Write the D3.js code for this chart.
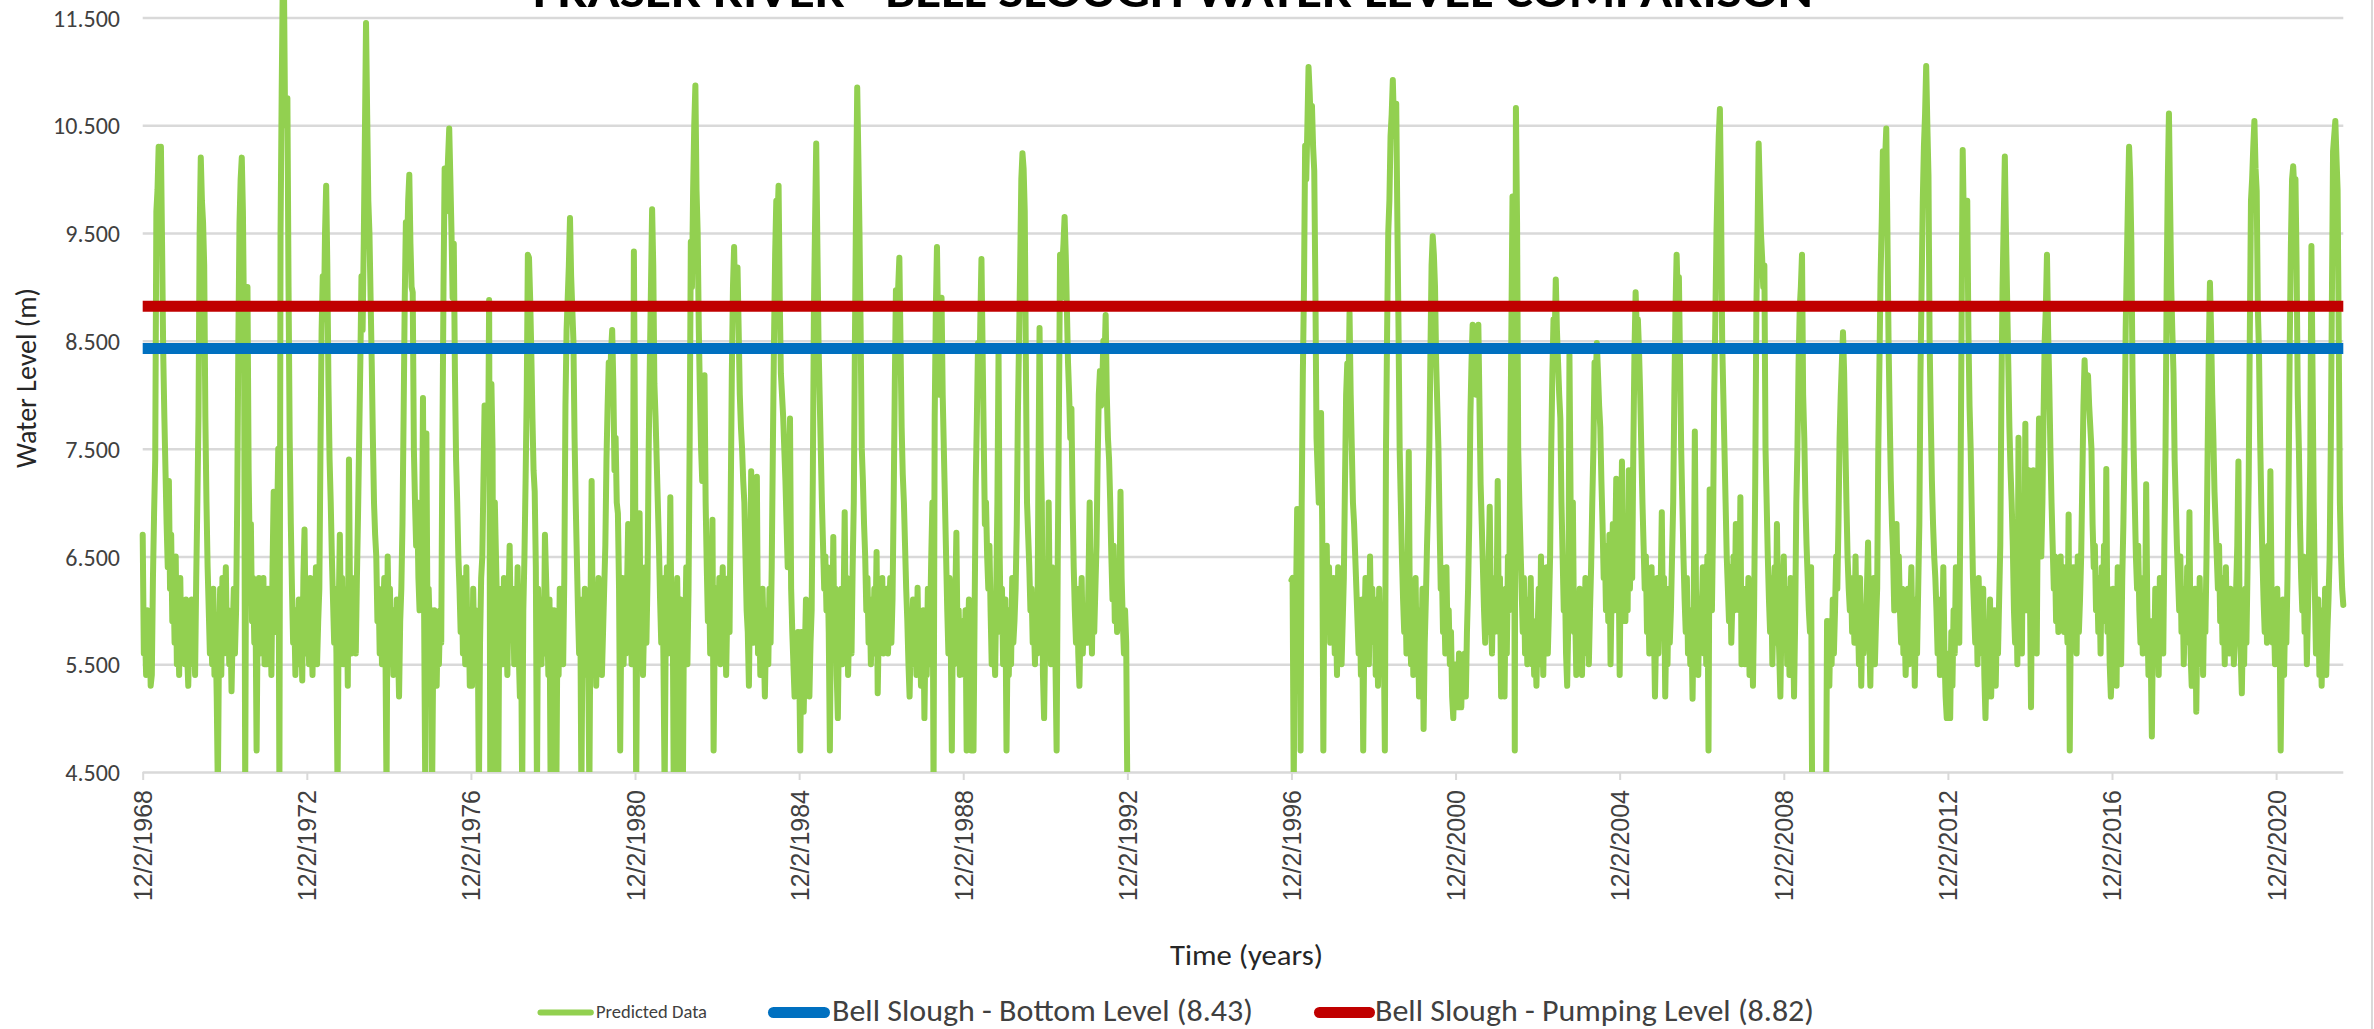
<!DOCTYPE html>
<html>
<head>
<meta charset="utf-8">
<script src="https://cdn.jsdelivr.net/npm/d3@7"></script>
<style>
html,body{margin:0;padding:0;background:#fff;overflow:hidden}
svg{display:block}
</style>
</head>
<body>
<svg id="chart" width="2374" height="1029"></svg>
<script>
// ---------------- DATA ----------------
const chartTitle = "FRASER RIVER - BELL SLOUGH WATER LEVEL COMPARISON";
const xAxisTitle = "Time (years)";
const yAxisTitle = "Water Level (m)";
const seriesNames = ["Predicted Data", "Bell Slough - Bottom Level (8.43)", "Bell Slough - Pumping Level (8.82)"];
const bottomLevel = 8.43;
const pumpingLevel = 8.82;
const yTickValues = [4.5, 5.5, 6.5, 7.5, 8.5, 9.5, 10.5, 11.5];
const xTickLabels = ["12/2/1968","12/2/1972","12/2/1976","12/2/1980","12/2/1984","12/2/1988","12/2/1992",
                     "12/2/1996","12/2/2000","12/2/2004","12/2/2008","12/2/2012","12/2/2016","12/2/2020"];
const samplesPerYear = 36;          // readings per year row (each row starts on 2 December)
const firstYearA = 1968;            // first record block: Dec 1968 - Dec 1992
const firstYearB = 1996;            // second record block: Dec 1996 - Jul 2022

const levelsA = [
 [6.7,5.6,5.8,5.4,6.0,5.5, 5.9,5.3,5.4,6.3,6.9,7.4, 9.7,9.9,10.3,10.0,10.3,9.4, 8.4,7.8,7.3,6.8,6.4,7.2, 6.2,6.7,5.9,6.3,5.7,6.5, 5.5,6.0,5.4,6.3,5.6,6.0],
 [5.9,5.5,6.1,5.6,5.3,5.8, 5.5,6.1,5.6,5.9,5.4,6.3, 7.0,7.8,9.5,10.2,9.8,9.6, 9.2,7.8,7.0,6.4,6.0,5.6, 5.9,5.5,6.2,5.4,5.8,5.2, 4.3,5.7,6.2,5.4,6.3,5.6],
 [5.8,6.4,5.6,6.0,5.5,5.9, 5.25,5.8,6.2,5.6,6.0,7.0, 8.5,9.6,10.0,10.2,9.7,8.6, 4.3,7.5,9.0,7.3,6.5,6.8, 5.9,6.3,5.7,6.1,4.7,6.0, 6.3,5.6,6.2,5.8,6.3,5.5],
 [5.9,5.5,6.2,5.6,6.0,5.4, 6.4,7.1,6.3,5.8,6.8,7.5, 4.3,9.5,10.8,11.9,11.8,10.5, 10.6,10.75,9.0,7.6,6.8,6.2, 5.7,6.0,5.4,5.9,5.5,6.1, 5.6,5.9,5.35,6.3,6.75,5.8],
 [5.6,6.0,5.5,6.3,5.8,5.4, 6.1,5.7,6.4,5.5,5.9,6.2, 7.5,8.6,9.1,8.7,9.5,9.94, 9.2,8.1,7.4,7.0,6.5,6.1, 5.7,6.2,5.6,4.3,6.0,6.7, 5.8,6.3,5.5,6.0,5.6,6.2],
 [5.3,7.4,6.0,5.6,6.3,5.8, 6.1,5.6,6.3,6.9,7.6,8.3, 9.1,8.6,9.4,10.4,11.45,10.6, 9.8,9.5,8.9,8.3,7.6,7.0, 6.7,6.5,5.9,6.2,5.6,6.1, 5.5,5.9,6.3,5.7,4.3,6.5],
 [5.8,6.2,5.5,6.0,5.4,5.9, 5.6,6.1,5.7,5.2,5.9,6.2, 6.8,7.8,8.9,9.6,9.3,9.8, 10.04,9.4,9.0,8.95,7.5,7.0, 6.6,7.0,6.3,6.0,6.8,6.2, 7.97,6.0,4.3,7.64,5.8,6.2],
 [5.8,6.0,4.3,5.6,6.0,5.5, 5.3,5.9,5.5,6.0,5.7,7.5, 9.0,10.1,9.7,9.9,10.2,10.47, 10.0,9.5,8.9,9.4,8.2,7.4, 7.0,6.5,6.2,5.8,6.3,5.6, 6.1,5.5,6.4,5.7,6.0,5.3],
 [5.9,5.3,6.2,5.6,6.0,5.4, 5.8,4.3,5.7,6.3,6.5,7.2, 7.9,7.4,7.6,7.3,8.88,4.3, 8.1,7.5,4.3,7.0,6.5,6.0, 4.3,6.2,5.6,5.9,5.5,6.3, 5.7,5.9,5.4,6.1,6.6,5.8],
 [5.8,6.2,5.5,6.0,5.7,6.4, 5.6,5.2,5.9,4.3,6.0,6.5, 7.2,8.0,9.3,9.27,8.9,8.4, 7.8,7.3,7.1,6.4,4.3,6.2, 5.7,6.1,5.5,6.0,5.6,6.7, 6.3,5.9,5.4,6.1,4.3,5.8],
 [5.7,6.0,5.5,4.3,5.9,5.4, 6.2,5.6,6.0,5.5,6.3,7.9, 8.6,8.9,9.2,9.64,9.1,8.8, 8.5,7.6,7.0,6.5,6.0,5.6, 6.1,4.3,5.8,5.4,6.2,5.6, 5.9,5.5,4.3,6.0,7.2,5.7],
 [5.6,6.1,5.3,5.9,6.3,5.5, 6.0,5.4,5.8,6.2,6.6,7.4, 7.9,8.3,8.0,8.4,8.6,8.1, 7.3,7.6,7.0,6.9,6.2,4.7, 5.9,6.3,5.5,6.0,5.6,6.2, 6.8,5.8,6.3,5.5,6.0,9.33],
 [7.5,4.3,6.0,5.5,6.9,5.6, 6.2,5.4,5.9,6.4,5.7,6.3, 7.5,8.3,9.0,9.72,9.2,8.1, 7.8,7.4,7.0,6.6,6.1,5.7, 6.3,5.5,4.3,5.9,6.4,5.6, 6.0,7.05,5.8,6.2,4.3,6.0],
 [5.9,6.3,5.6,4.3,6.1,5.5, 4.3,6.0,5.7,6.4,5.5,6.2, 7.6,9.42,9.0,9.89,10.5,10.87, 9.9,9.5,8.6,8.0,7.5,7.2, 7.8,8.18,7.0,6.4,5.9,6.3, 5.6,6.1,6.84,4.7,5.8,6.2],
 [6.0,5.6,6.3,5.5,5.9,6.4, 5.7,6.1,5.4,6.0,6.3,5.8, 7.0,8.2,9.0,9.37,8.8,9.0, 9.18,8.6,8.0,7.7,7.5,7.2, 7.0,6.5,6.0,5.8,5.3,6.2, 7.29,6.0,5.7,6.4,5.9,7.24],
 [5.6,6.1,5.4,5.9,6.2,5.7, 5.2,5.8,6.0,5.5,6.2,5.7, 6.4,7.5,8.5,9.3,9.8,9.6, 9.94,8.9,8.2,8.0,7.8,7.5, 7.2,6.8,6.4,6.9,7.78,6.2, 5.8,5.5,5.2,5.7,5.4,5.8],
 [5.5,4.7,5.8,5.3,5.06,5.6, 6.1,5.4,5.9,5.2,5.7,6.0, 7.2,8.8,9.6,10.33,9.4,8.5, 8.0,7.5,7.0,6.6,6.2,6.5, 6.0,6.4,5.8,4.7,6.1,5.7, 6.68,5.6,6.2,5.4,5.0,5.9],
 [5.8,6.2,5.5,6.0,6.91,5.7, 6.3,5.4,5.9,6.1,5.6,6.4, 7.0,8.5,9.8,10.85,10.2,9.5, 8.6,7.5,7.2,6.8,6.5,6.0, 6.3,5.7,6.1,5.5,6.0,5.6, 6.2,5.8,6.54,5.23,5.9,6.2],
 [5.9,6.3,5.6,6.0,5.8,6.2, 5.6,5.9,6.3,5.7,6.1,7.0, 8.1,8.97,8.7,9.0,9.27,8.5, 7.7,7.26,7.0,6.6,6.2,5.9, 5.5,5.2,5.8,5.5,6.1,5.6, 6.0,5.4,6.21,5.5,5.9,5.3],
 [5.6,6.0,5.0,5.8,5.4,6.2, 5.5,5.9,6.5,7.0,4.3,7.8, 8.8,9.37,8.6,8.0,8.7,8.9, 8.0,7.5,7.0,6.5,6.0,5.6, 6.3,5.8,4.7,6.0,5.5,6.1, 6.72,5.7,6.0,5.4,5.9,5.6],
 [5.8,5.4,6.0,4.7,5.7,6.1, 5.3,4.7,5.9,4.7,6.0,7.2, 7.8,8.48,8.0,8.7,9.26,8.4, 7.6,6.8,7.0,6.5,6.2,6.6, 6.0,5.5,6.1,5.7,5.4,6.2, 7.0,8.39,6.5,5.8,6.2,5.5],
 [5.6,6.1,4.7,5.8,5.4,6.0, 5.5,6.3,5.7,5.9,6.2,6.8, 7.83,8.5,9.2,10.0,10.24,10.1, 9.7,8.3,7.0,6.7,6.4,6.0, 6.2,5.7,5.9,5.5,6.1,5.6, 7.2,8.62,7.5,7.0,5.4,5.0],
 [5.8,6.2,5.6,7.0,6.0,5.5, 6.4,5.7,6.1,5.5,4.7,6.5, 7.8,9.3,8.9,9.2,9.4,9.65, 9.3,8.8,8.3,8.0,7.6,7.87, 7.0,6.4,6.0,5.7,6.2,5.6, 5.3,5.9,6.3,5.6,6.0,5.7],
 [6.0,5.7,6.3,7.0,6.1,5.6, 6.4,5.8,6.2,6.6,7.4,8.0, 8.22,7.9,8.1,8.5,8.3,8.74, 8.0,7.6,7.4,7.0,6.5,6.1, 6.6,5.9,6.3,5.8,6.2,6.0, 7.1,6.3,5.9,5.6,6.0,5.7],
 [4.3]
];

const levelsB = [
 [6.28,6.3,4.3,6.3,6.1,6.94, 6.6,6.9,4.7,7.0,8.2,9.0, 10.31,10.0,10.5,11.04,10.8,10.5, 10.68,10.3,10.08,9.0,7.6,7.3, 7.0,7.2,7.83,6.8,4.7,6.5, 6.0,6.6,5.8,6.4,5.7,6.2],
 [5.9,6.3,5.6,6.0,5.4,6.4, 5.7,6.1,5.5,5.9,6.3,7.2, 8.0,8.29,8.0,8.76,8.0,7.5, 7.0,6.8,6.5,6.2,5.9,5.6, 6.0,5.4,6.1,4.7,5.8,6.3, 5.6,6.0,5.5,6.5,5.8,6.2],
 [5.7,6.1,5.4,5.9,5.3,6.2, 5.6,6.0,5.5,5.8,4.7,7.5, 8.6,9.51,9.8,10.4,10.6,10.92, 10.5,10.4,10.7,9.6,8.62,7.5, 7.0,6.5,6.1,5.8,6.2,5.6, 6.3,7.47,5.9,5.5,6.2,5.4],
 [5.8,6.3,5.5,6.0,5.2,5.9, 5.6,6.2,4.9,5.7,6.1,6.6, 7.0,7.5,8.4,9.2,9.47,9.3, 9.0,8.3,7.9,7.5,6.8,6.2, 6.4,5.8,6.1,5.6,6.4,5.7, 6.0,5.5,5.8,5.2,5.0,5.5],
 [5.3,5.5,5.1,5.6,5.2,5.1, 5.5,5.3,5.6,5.2,5.8,6.2, 6.8,7.8,8.3,8.65,8.2,8.4, 8.0,8.3,8.65,7.9,7.17,6.8, 6.4,6.0,5.7,6.2,5.8,6.4, 6.96,6.0,5.6,6.3,5.8,6.1],
 [6.0,7.2,5.8,6.3,5.2,6.0, 5.7,5.2,6.2,5.6,6.5,6.0, 7.4,8.6,9.84,9.5,4.7,10.66, 9.6,7.5,7.0,6.6,6.2,5.8, 6.3,5.6,6.1,5.5,6.0,5.7, 6.3,5.5,5.9,5.4,5.7,5.3],
 [5.8,6.2,5.5,6.5,5.9,5.4, 6.1,5.7,6.4,5.6,6.0,6.5, 7.5,8.2,8.7,8.5,9.07,8.6, 8.3,8.0,7.78,7.0,6.5,6.0, 6.3,5.6,5.3,5.9,8.37,7.0, 6.2,7.0,5.8,6.0,5.4,5.8],
 [5.8,6.2,5.7,5.4,6.0,5.6, 6.3,5.8,6.1,5.5,6.0,6.4, 7.0,7.5,8.3,8.1,8.48,8.2, 7.9,7.7,7.2,6.8,6.3,6.6, 6.0,6.4,5.9,6.7,5.5,6.2, 6.8,6.0,6.5,7.22,6.1,6.5],
 [5.4,6.5,7.38,6.2,6.8,5.9, 6.5,6.0,7.3,6.2,6.7,6.3, 7.5,8.4,8.95,8.6,8.7,8.4, 8.0,7.5,7.0,6.6,6.2,6.5, 5.8,6.2,5.6,6.0,6.4,5.7, 5.9,5.2,5.8,6.3,5.6,6.1],
 [6.2,6.91,5.8,6.3,5.2,5.9, 5.5,6.2,5.7,6.0,6.5,7.0, 8.0,8.8,9.3,8.9,9.09,8.3, 7.5,7.0,6.5,6.1,5.8,6.3, 5.6,6.0,5.5,5.9,5.18,6.0, 7.66,6.2,5.8,5.4,6.1,5.7],
 [5.9,6.4,5.6,6.2,5.5,6.5, 4.7,7.12,6.3,6.0,6.8,8.0, 8.7,9.5,10.0,10.4,10.65,9.8, 8.5,8.0,7.5,7.0,6.5,6.2, 5.9,6.4,5.7,6.1,6.5,6.0, 6.8,6.2,6.6,6.0,7.05,5.5],
 [5.8,6.2,5.5,6.0,5.7,6.3, 5.4,5.9,6.1,5.3,6.0,7.2, 8.8,9.5,10.33,9.9,9.5,9.28, 9.0,9.2,7.5,7.0,6.5,6.1, 5.8,6.3,5.5,6.0,6.4,5.7, 6.8,6.0,5.6,5.2,5.9,6.2],
 [6.5,5.8,6.2,5.5,6.0,5.4, 6.3,5.7,6.0,5.2,5.9,7.0, 7.5,8.3,8.8,9.0,9.3,8.0, 7.6,7.0,6.6,6.3,6.0,5.8, 6.4,4.0,4.0,4.0,4.0,4.0, 4.0,4.0,4.0,4.0,4.0,4.0],
 [4.0,4.0,5.9,5.6,5.3,5.9, 5.5,6.1,5.6,6.0,6.5,6.2, 6.8,7.6,8.0,8.3,8.58,8.2, 7.6,7.0,6.5,6.2,6.0,6.3, 5.8,6.1,5.7,6.5,5.8,6.0, 5.5,6.3,5.3,5.9,5.6,6.0],
 [5.9,6.2,6.63,5.8,5.3,6.0, 5.6,6.3,5.5,5.9,6.2,7.5, 8.3,9.11,9.6,10.26,9.8,10.2, 10.47,9.5,8.5,7.8,7.2,6.8, 6.5,6.0,6.4,6.8,6.2,6.5, 6.0,5.7,6.2,5.6,5.9,5.4],
 [5.8,6.2,5.5,6.0,6.4,5.7, 6.1,5.3,5.9,5.6,6.2,6.8, 8.2,9.0,9.8,10.3,10.6,11.05, 10.5,10.03,8.5,7.8,7.2,6.8, 6.5,6.3,6.0,5.6,6.1,5.4, 5.9,5.7,6.4,5.6,5.2,5.0],
 [5.4,5.6,5.0,5.8,5.3,6.0, 5.6,6.4,5.8,6.1,5.7,7.0, 8.6,10.27,9.6,9.8,9.5,9.8, 8.6,7.9,7.5,6.9,6.3,6.0, 5.7,6.2,5.5,6.3,5.8,6.0, 5.6,6.2,5.4,5.0,5.6,5.2],
 [5.6,6.1,5.2,5.8,5.5,6.0, 5.3,5.9,5.6,6.1,6.6,8.0, 9.0,9.6,10.21,9.5,8.9,8.3, 7.7,7.3,7.0,6.6,6.0,5.7, 6.3,5.5,7.6,5.8,6.5,5.6, 7.0,6.2,7.73,6.0,6.8,7.3],
 [6.2,5.1,6.6,7.3,5.8,6.9, 5.6,7.0,7.78,7.4,6.5,7.0, 7.8,8.5,8.8,9.3,8.6,8.1, 7.5,7.0,6.6,6.2,6.5,5.9, 6.3,5.8,6.1,6.5,5.9,6.2, 5.8,6.4,6.0,5.7,6.89,4.7],
 [6.0,5.7,6.4,5.9,6.2,5.6, 6.5,5.8,6.1,6.5,7.2,7.9, 8.32,8.0,8.1,8.18,7.9,7.7, 7.5,6.8,6.4,6.6,6.0,6.3, 5.8,6.2,5.6,6.4,5.9,6.6, 6.0,7.31,5.8,6.2,5.5,5.2],
 [5.5,6.2,5.6,6.0,5.3,6.4, 5.8,6.1,5.5,6.3,6.8,7.5, 8.6,9.2,9.8,10.3,10.0,9.4, 8.2,7.5,7.0,6.5,6.2,6.6, 6.0,5.7,6.3,5.6,6.1,5.8, 7.17,6.0,5.4,5.9,5.6,4.83],
 [5.9,5.5,6.2,5.7,6.0,5.4, 6.3,5.8,6.1,5.6,6.6,7.5, 9.0,10.0,10.61,9.8,9.0,8.58, 8.2,7.4,7.0,6.6,6.3,6.0, 6.5,5.8,6.2,5.5,6.0,5.7, 6.4,5.9,6.91,5.6,5.3,5.9],
 [5.8,6.2,5.06,5.9,5.5,6.3, 5.7,6.0,5.4,6.1,5.8,6.5, 7.5,8.4,9.04,8.6,8.0,7.6, 7.1,6.8,6.5,6.2,6.6,5.9, 6.3,5.7,6.1,5.5,6.4,5.8, 6.0,5.6,6.2,5.7,6.0,5.5],
 [5.8,6.2,6.6,7.38,6.0,5.6, 5.23,5.9,5.5,6.2,5.7,6.4, 7.2,8.6,9.8,10.0,10.3,10.54, 10.1,9.89,8.8,8.4,7.6,7.0, 6.5,6.1,5.8,6.4,5.7,6.6, 6.0,7.29,6.2,5.7,6.0,5.5],
 [5.8,6.2,5.5,5.9,4.7,5.6, 6.1,5.4,6.0,5.7,6.3,7.2, 8.5,9.4,10.0,10.12,9.9,10.0, 9.2,8.0,7.5,6.8,6.3,6.0, 6.5,5.8,6.2,5.5,6.0,6.6, 7.4,9.38,8.2,7.0,6.2,5.6],
 [5.7,6.1,5.4,5.9,5.3,6.0, 5.5,6.2,5.4,5.8,6.1,6.5, 7.5,8.9,10.26,10.4,10.54,10.2, 9.9,8.5,7.0,6.5,6.2,6.05]
];

// ---------------- BUILD SERIES ----------------
function buildPoints(rows, firstYear) {
  const pts = [];
  rows.forEach((row, r) => {
    const t0 = Date.UTC(firstYear + r, 11, 2);
    const t1 = Date.UTC(firstYear + r + 1, 11, 2);
    const step = (t1 - t0) / samplesPerYear;
    row.forEach((v, j) => pts.push({date: new Date(t0 + j * step), value: v}));
  });
  return pts;
}
const seriesA = buildPoints(levelsA, firstYearA);
const seriesB = buildPoints(levelsB, firstYearB);
const startDate = seriesA[0].date;
const endDate = seriesB[seriesB.length - 1].date;

// ---------------- LAYOUT ----------------
const svg = d3.select("#chart");
const M = {left: 142.7, right: 2343.3, top: 17.5, bottom: 772};
const CAL = "Carlito, Lato, 'Open Sans', sans-serif";

const x = d3.scaleUtc().domain([startDate, endDate]).range([M.left, M.right]);
const y = d3.scaleLinear().domain([4.5, 11.5]).range([M.bottom, M.top]);

// chart-area right border
svg.append("line").attr("x1", 2372).attr("x2", 2372).attr("y1", 0).attr("y2", 1029)
  .attr("stroke", "#d9d9d9").attr("stroke-width", 2);

// Y axis with gridlines
const yAxis = d3.axisLeft(y).tickValues(yTickValues).tickFormat(d3.format(".3f"))
  .tickSize(-(M.right - M.left)).tickPadding(22.7);
const gy = svg.append("g").attr("transform", `translate(${M.left},0)`).call(yAxis);
gy.select(".domain").remove();
gy.selectAll(".tick line").attr("stroke", "#d9d9d9").attr("stroke-width", 2.5);
gy.selectAll(".tick text")
  .attr("font-family", CAL).attr("font-size", 24).attr("fill", "#404040")
  .attr("dy", "0.36em")
  .each(function(d) {
    const s = d3.format(".3f")(d);
    const digits = s.replace(".", "").length;
    d3.select(this).attr("textLength", 24 * (digits * 0.507 + 0.252)).attr("lengthAdjust", "spacingAndGlyphs");
  });

// X axis
const tickParse = d3.utcParse("%m/%d/%Y");
const xTickDates = xTickLabels.map(tickParse);
const xAxis = d3.axisBottom(x).tickValues(xTickDates).tickFormat((d, i) => xTickLabels[i]).tickSize(8);
const gx = svg.append("g").attr("transform", `translate(0,${M.bottom})`).call(xAxis);
gx.select(".domain").remove();
gx.selectAll(".tick line").attr("stroke", "#d9d9d9").attr("stroke-width", 2);
gx.selectAll(".tick text")
  .attr("font-family", "'Liberation Sans', Arial, sans-serif").attr("font-size", 25).attr("fill", "#404040")
  .attr("transform", "rotate(-90)").attr("text-anchor", "end")
  .attr("x", -18).attr("y", 0).attr("dy", "0.36em");

// clip for plot
svg.append("clipPath").attr("id", "plotclip").append("rect")
  .attr("x", M.left - 10).attr("y", -60).attr("width", M.right - M.left + 20).attr("height", M.bottom + 60);

const line = d3.line().x(d => x(d.date)).y(d => y(d.value));

const gData = svg.append("g").attr("clip-path", "url(#plotclip)");
[seriesA, seriesB].forEach(seg => {
  gData.append("path").datum(seg).attr("d", line)
    .attr("fill", "none").attr("stroke", "#92D050").attr("stroke-width", 6)
    .attr("stroke-linejoin", "round").attr("stroke-linecap", "round");
});

// reference levels
const levelSeries = [
  {value: bottomLevel, color: "#0070C0"},
  {value: pumpingLevel, color: "#C00000"}
];
levelSeries.forEach(l => {
  svg.append("path").datum([{date: startDate, value: l.value}, {date: endDate, value: l.value}])
    .attr("d", line).attr("fill", "none").attr("stroke", l.color).attr("stroke-width", 11)
    .attr("stroke-linecap", "butt");
});

// Title
svg.append("text").attr("x", 1173).attr("y", 6.5).attr("text-anchor", "middle")
  .attr("font-family", CAL).attr("font-weight", "bold").attr("font-size", 46).attr("fill", "#000")
  .attr("textLength", 1280).attr("lengthAdjust", "spacingAndGlyphs").text(chartTitle);

// Axis titles
svg.append("text").attr("x", 1246.5).attr("y", 965).attr("text-anchor", "middle")
  .attr("font-family", CAL).attr("font-size", 29).attr("fill", "#262626")
  .attr("textLength", 153).attr("lengthAdjust", "spacingAndGlyphs").text(xAxisTitle);

svg.append("text").attr("transform", "translate(36,378) rotate(-90)").attr("text-anchor", "middle")
  .attr("font-family", CAL).attr("font-size", 28).attr("fill", "#262626")
  .attr("textLength", 180).attr("lengthAdjust", "spacingAndGlyphs").text(yAxisTitle);

// Legend
const legendItems = [
  {name: seriesNames[0], color: "#92D050", sw: 6, x1: 540.5, x2: 590.8, tx: 596, tw: 111, fs: 18, base: 1018},
  {name: seriesNames[1], color: "#0070C0", sw: 11, x1: 773.5, x2: 824.5, tx: 832, tw: 421, fs: 31, base: 1020.5},
  {name: seriesNames[2], color: "#C00000", sw: 11, x1: 1319.5, x2: 1369.5, tx: 1375, tw: 439, fs: 31, base: 1020.5}
];
const gl = svg.append("g");
legendItems.forEach(it => {
  gl.append("line").attr("x1", it.x1).attr("x2", it.x2).attr("y1", 1012.5).attr("y2", 1012.5)
    .attr("stroke", it.color).attr("stroke-width", it.sw).attr("stroke-linecap", "round");
  gl.append("text").attr("x", it.tx).attr("y", it.base)
    .attr("font-family", CAL).attr("font-size", it.fs).attr("fill", "#404040")
    .attr("textLength", it.tw).attr("lengthAdjust", "spacingAndGlyphs").text(it.name);
});
</script>
</body>
</html>
